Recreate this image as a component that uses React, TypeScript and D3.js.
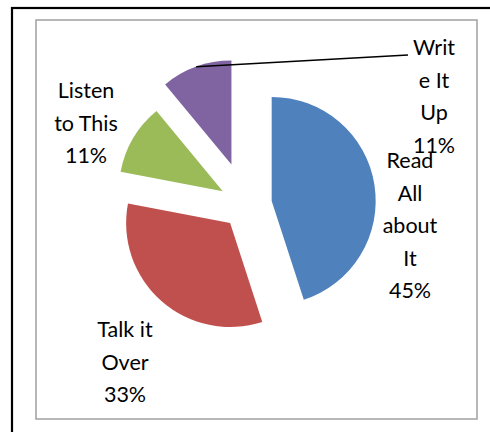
import React from "react";
import * as d3 from "d3";

const categories = ["Read All about It", "Talk it Over", "Listen to This", "Write It Up"];
const values = [45, 33, 11, 11];
const labelLines = [
  ["Read", "All", "about", "It", "45%"],
  ["Talk it", "Over", "33%"],
  ["Listen", "to This", "11%"],
  ["Writ", "e It", "Up", "11%"],
];

const colors = ["#4F81BD", "#C0504D", "#9BBB59", "#8064A2"];
const explode = [26, 24, 27, 43];
const labelPos: [number, number][] = [
  [410, 168],
  [125, 337],
  [86, 98],
  [434, 55],
];

export default function App() {
  const W = 490, H = 432;
  const cx = 246, cy = 205, r = 104;
  const pie = d3.pie<number>().sort(null).value((d) => d)(values);
  const arc = d3.arc<d3.PieArcDatum<number>>().innerRadius(0).outerRadius(r);
  const lineH = 32.5;

  // purple slice leader line
  const pIdx = 3;
  const pd = pie[pIdx];
  const pMid = (pd.startAngle + pd.endAngle) / 2;
  const pcx = cx + Math.sin(pMid) * explode[pIdx];
  const pcy = cy - Math.cos(pMid) * explode[pIdx];
  const la = pd.startAngle + (pd.endAngle - pd.startAngle) * 0.5;
  const lx0 = pcx + Math.sin(la) * r;
  const ly0 = pcy - Math.cos(la) * r;

  return (
    <svg width={W} height={H} style={{ position: "absolute", left: 0, top: 0 }}>
      <rect x={0} y={0} width={W} height={H} fill="#fff" />
      <rect x={12} y={8} width={W} height={H} fill="none" stroke="#000" strokeWidth={2.2} />
      <rect x={36} y={20} width={441} height={399} fill="none" stroke="#A0A0A0" strokeWidth={1.5} />
      {pie.map((d, i) => {
        const mid = (d.startAngle + d.endAngle) / 2;
        const tx = Math.sin(mid) * explode[i];
        const ty = -Math.cos(mid) * explode[i];
        return (
          <path
            key={categories[i]}
            d={arc(d) || ""}
            fill={colors[i]}
            transform={`translate(${cx + tx},${cy + ty})`}
          />
        );
      })}
      <line x1={lx0} y1={ly0} x2={408} y2={55} stroke="#000" strokeWidth={1.6} />
      {labelLines.map((lines, i) => (
        <text
          key={i}
          textAnchor="middle"
          fontFamily="Lato, 'Open Sans', sans-serif"
          fontSize={21.5}
          fill="#000"
        >
          {lines.map((t, j) => (
            <tspan key={j} x={labelPos[i][0]} y={labelPos[i][1] + j * lineH}>
              {t}
            </tspan>
          ))}
        </text>
      ))}
    </svg>
  );
}
